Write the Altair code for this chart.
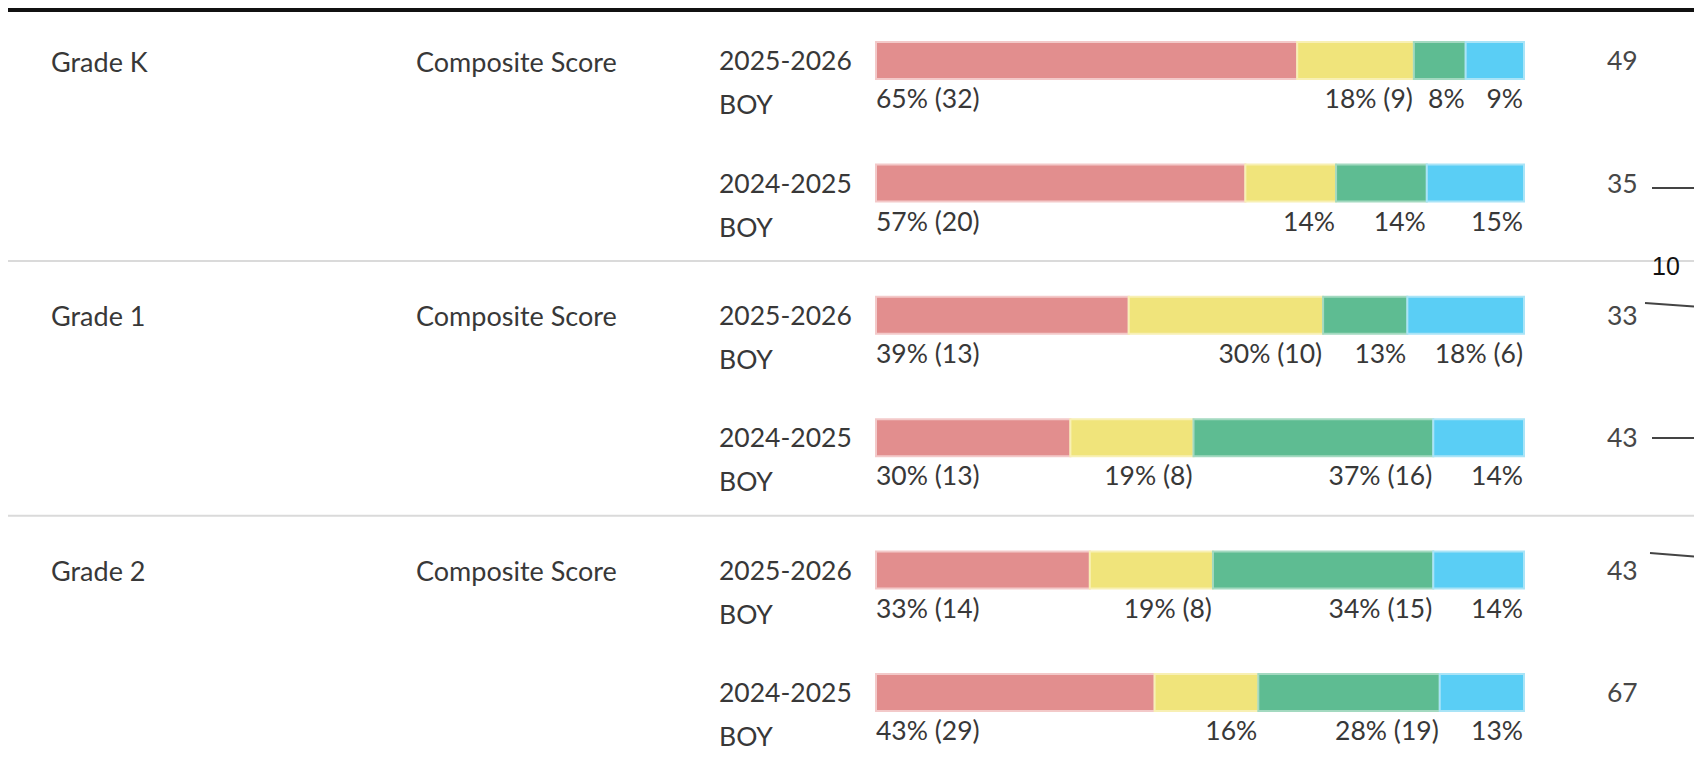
import altair as alt
import pandas as pd

# ---------------- data ----------------
grades = ["Grade K", "Grade 1", "Grade 2"]
measure = "Composite Score"
years = ["2025-2026", "2024-2025"]
term = "BOY"
categories = ["Well Below Benchmark", "Below Benchmark", "At Benchmark", "Above Benchmark"]

# percent per segment, one row per bar (grade x year)
pct = [
    [65, 18, 8, 9],
    [57, 14, 14, 15],
    [39, 30, 13, 18],
    [30, 19, 37, 14],
    [33, 19, 34, 14],
    [43, 16, 28, 13],
]
# student counts shown in the labels (None = not shown)
counts = [
    [32, 9, None, None],
    [20, None, None, None],
    [13, 10, None, 6],
    [13, 8, 16, None],
    [14, 8, 15, None],
    [29, None, 19, None],
]
totals = [49, 35, 33, 43, 43, 67]

# ---------------- style / layout ----------------
fills = ["#E28E8E", "#F0E47B", "#5EBC92", "#5ACEF5"]
strokes = ["#F3C9C9", "#F8F0B4", "#A3D9C0", "#A9E4F7"]
TXT = "#383838"
FONT = "Lato"

W, H = 1686, 750
X0, XPX = 868, 6.48            # bar start pixel, pixels per percent
ROW0, ROWPX = 52.5, 122.5      # first bar centre, pixel step between years
GRADE_STEP = 254.75 / ROWPX    # grade step in row units
SEP_OFF = 54.25 / ROWPX

xs = alt.Scale(domain=[-X0 / XPX, (W - X0) / XPX], nice=False, zero=False, padding=0)
ys = alt.Scale(domain=[-ROW0 / ROWPX, (H - ROW0) / ROWPX], nice=False, zero=False,
               reverse=True, padding=0)

rows = []
segs = []
r = 0
for gi, g in enumerate(grades):
    for yi, yr in enumerate(years):
        slot = gi * GRADE_STEP + yi
        rows.append(dict(grade=g, measure=measure, year=yr, term=term, first=yi == 0,
                         slot=slot, total=str(totals[r])))
        cum = 0
        for ci, c in enumerate(categories):
            p = pct[r][ci]
            n = counts[r][ci]
            lab = f"{p}% ({n})" if n is not None else f"{p}%"
            segs.append(dict(slot=slot, cat=c, ci=ci, start=cum, end=cum + p, label=lab))
            cum += p
        r += 1
rows = pd.DataFrame(rows)
segs = pd.DataFrame(segs)
seps = pd.DataFrame({"slot": [gi * GRADE_STEP - SEP_OFF for gi in range(1, len(grades))]})
one = pd.DataFrame({"a": [0]})

Y = alt.Y("slot:Q", scale=ys, axis=None)

bars = alt.Chart(segs).mark_bar(orient="horizontal", size=37, strokeWidth=2).encode(
    x=alt.X("start:Q", scale=xs, axis=None),
    x2="end:Q",
    y=Y,
    fill=alt.Fill("cat:N", scale=alt.Scale(domain=categories, range=fills), legend=None),
    stroke=alt.Stroke("cat:N", scale=alt.Scale(domain=categories, range=strokes), legend=None),
)

lab_first = alt.Chart(segs).transform_filter("datum.ci == 0").mark_text(
    align="left", baseline="alphabetic", dy=47.5, fontSize=26.5, font=FONT, color=TXT
).encode(x=alt.X("start:Q", scale=xs, axis=None), y=Y, text="label:N")

lab_rest = alt.Chart(segs).transform_filter("datum.ci > 0").mark_text(
    align="right", baseline="alphabetic", dy=47.5, dx=-1, fontSize=26.5, font=FONT, color=TXT
).encode(x=alt.X("end:Q", scale=xs, axis=None), y=Y, text="label:N")

grade_t = alt.Chart(rows).transform_filter("datum.first").mark_text(
    align="left", baseline="alphabetic", dy=11, fontSize=27, font=FONT, color=TXT
).encode(x=alt.value(43), y=Y, text="grade:N")

meas_t = alt.Chart(rows).transform_filter("datum.first").mark_text(
    align="left", baseline="alphabetic", dy=11, fontSize=27, font=FONT, color=TXT
).encode(x=alt.value(408), y=Y, text="measure:N")

year_t = alt.Chart(rows).mark_text(
    align="left", baseline="alphabetic", dy=9.5, fontSize=26.5, font=FONT, color=TXT
).encode(x=alt.value(711), y=Y, text="year:N")

term_t = alt.Chart(rows).mark_text(
    align="left", baseline="alphabetic", dy=53.5, fontSize=26.5, font=FONT, color=TXT
).encode(x=alt.value(711), y=Y, text="term:N")

tot_t = alt.Chart(rows).mark_text(
    align="left", baseline="alphabetic", dy=9.5, fontSize=26.5, font=FONT, color="#474747"
).encode(x=alt.value(1599), y=Y, text="total:N")

sep_r = alt.Chart(seps).mark_rule(color="#DADADA", strokeWidth=2).encode(
    y=Y, x=alt.value(0), x2=alt.value(W)
)

top_r = alt.Chart(one).mark_rule(color="#111111", strokeWidth=5).encode(
    y=alt.value(1.5), x=alt.value(0), x2=alt.value(W)
)

# fragments of the neighbouring (cut-off) trend chart
stubs = [(1644, 180, 1686, 180), (1637, 295, 1686, 298.5), (1644, 430, 1686, 430), (1642, 545, 1686, 548.5)]
stub_layers = [
    alt.Chart(one).mark_rule(color="#444444", strokeWidth=2).encode(
        x=alt.value(a), y=alt.value(b), x2=alt.value(c), y2=alt.value(d))
    for a, b, c, d in stubs
]
ten_t = alt.Chart(one).mark_text(
    align="left", baseline="alphabetic", fontSize=25, font="Liberation Sans", color="#111111"
).encode(x=alt.value(1644), y=alt.value(267), text=alt.value("10"))

chart = alt.layer(
    sep_r, top_r, *stub_layers, bars, lab_first, lab_rest,
    grade_t, meas_t, year_t, term_t, tot_t, ten_t
).properties(
    width=W, height=H, padding=0, autosize=alt.AutoSizeParams(type="none"),
    background="white"
).configure_view(stroke=None)

chart.save("out.html", embed_options={"renderer": "svg", "actions": False})
